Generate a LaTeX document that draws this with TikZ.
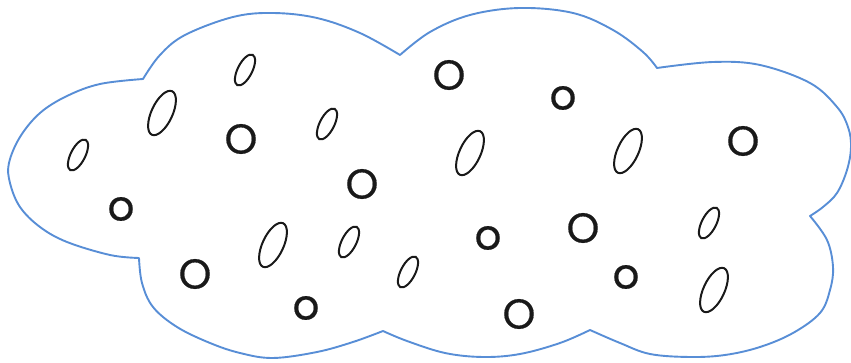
\documentclass[tikz,border=0pt]{standalone}
\usepackage{fontspec}
\newfontfamily\lettfont{Poppins}[FakeBold=0.4]
\usetikzlibrary{shapes.geometric}
\definecolor{cloudblue}{RGB}{88,142,214}
\definecolor{ink}{RGB}{25,25,25}
\begin{document}
\begin{tikzpicture}[x=1pt,y=1pt,
  cloud/.style={draw=cloudblue,line width=1.9pt,line join=round},
  letter/.style={font=\lettfont\fontsize{42}{42}\selectfont,text=ink,inner sep=0pt},
  ovalring/.style={draw=ink,ellipse,inner sep=0pt,line width=2pt},
  bigoval/.style={ovalring,minimum width=21pt,minimum height=48pt,rotate=-25},
  smalloval/.style={ovalring,minimum width=14.5pt,minimum height=34pt,rotate=-27}]
\useasboundingbox (0,0) rectangle (851,363);
% cloud outline
\draw[cloud]
  plot[smooth,tension=0.6] coordinates {(143,284) (160,308) (185,328) (233,346) (273,350) (317,345) (360,330) (400,308)}
  -- plot[smooth,tension=0.6] coordinates {(400,308) (430,331) (470,348) (520,355) (573,350) (613,333) (643,311) (657,295)}
  -- plot[smooth,tension=0.6] coordinates {(657,295) (713,301) (760,298) (810,280) (837,256) (848,236) (851,216) (847,193) (837,170) (823,156) (810,147)}
  -- plot[smooth,tension=0.6] coordinates {(810,147) (827,123) (833,96) (830,73) (820,50) (793,30) (760,16) (725,8) (690,6) (650,9) (620,20) (590,33)}
  -- plot[smooth,tension=0.6] coordinates {(590,33) (560,20) (520,9) (483,6) (445,10) (407,22) (383,32)}
  -- plot[smooth,tension=0.6] coordinates {(383,32) (353,21) (317,11) (273,5) (240,10) (210,20) (177,36) (153,56) (142,80) (139,105)}
  -- plot[smooth,tension=0.6] coordinates {(139,105) (110,108) (67,121) (40,136) (20,156) (10,180) (9,200) (20,226) (40,250) (67,267) (100,279) (143,284)}
  -- cycle;
% capital O
\node[letter] (O1) at (449,288) {O};
\node[letter] (O2) at (241,224) {O};
\node[letter] (O3) at (362,179) {O};
\node[letter] (O4) at (743,222) {O};
\node[letter] (O5) at (583,135) {O};
\node[letter] (O6) at (195,89) {O};
\node[letter] (O7) at (519,49) {O};
% small o
\node[letter] (o1) at (121,154) {o};
\node[letter] (o2) at (563,265) {o};
\node[letter] (o3) at (306,55) {o};
\node[letter] (o4) at (488,125) {o};
\node[letter] (o5) at (626,86) {o};
% small slanted ovals
\node[smalloval] (s1) at (245,293) {};
\node[smalloval] (s2) at (78,208) {};
\node[smalloval] (s3) at (327,239) {};
\node[smalloval] (s4) at (349,121) {};
\node[smalloval] (s5) at (408,91) {};
\node[smalloval] (s6) at (709,140) {};
% large slanted ovals
\node[bigoval] (b1) at (162,250) {};
\node[bigoval] (b2) at (273,118) {};
\node[bigoval] (b3) at (470,210) {};
\node[bigoval] (b4) at (628,212) {};
\node[bigoval] (b5) at (714,73) {};
\end{tikzpicture}
\end{document}
